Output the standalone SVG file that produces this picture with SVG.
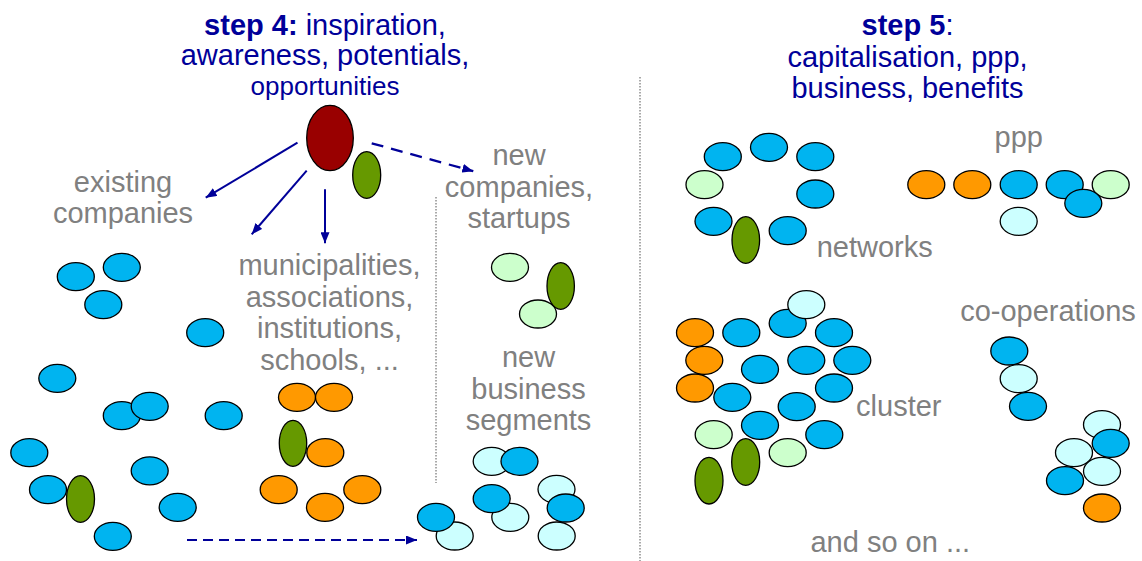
<svg xmlns="http://www.w3.org/2000/svg" width="1142" height="561" viewBox="0 0 1142 561">
<style>
ellipse{stroke:#000;stroke-width:1.3}
.b{fill:#00B4F0}.o{fill:#FF9900}.g{fill:#669900}.lg{fill:#CCFFCC}.lc{fill:#CCFFFF}.r{fill:#990000}
text{font-family:"Liberation Sans",Arial,sans-serif;text-anchor:middle}
.lbl{font-size:29px;fill:#808080}
.ttl{font-size:29px;fill:#000099}
.ttl.sm{font-size:26px}
.conn{stroke:#000099;stroke-width:2;fill:none}
.dash{stroke-dasharray:10,6}
.dash2{stroke-dasharray:12,8;stroke-width:2.3}
.dot{stroke:#555;stroke-width:1;stroke-dasharray:1.5,1.5;fill:none}
</style>
<defs>
<marker id="ah" markerUnits="userSpaceOnUse" markerWidth="11" markerHeight="9" refX="11" refY="4.5" orient="auto">
<path d="M0,0 L11,4.5 L0,9 z" fill="#000099"/>
</marker>
</defs>

<g id="titles">
<text class="ttl" x="325" y="35"><tspan font-weight="bold">step 4:</tspan> inspiration,</text>
<text class="ttl" x="325" y="65">awareness, potentials,</text>
<text class="ttl sm" x="325" y="95">opportunities</text>
<text class="ttl" x="907.5" y="35"><tspan font-weight="bold">step 5</tspan>:</text>
<text class="ttl" x="907.5" y="66.5">capitalisation, ppp,</text>
<text class="ttl" x="907.5" y="98">business, benefits</text>
</g>

<g id="dividers">
<line class="dot" x1="436" y1="197" x2="436" y2="483"/>
<line class="dot" x1="640" y1="77" x2="640" y2="561"/>
</g>

<g id="labels">
<text class="lbl" x="123" y="192">existing</text>
<text class="lbl" x="123" y="223">companies</text>
<text class="lbl" x="329.5" y="275">municipalities,</text>
<text class="lbl" x="329.5" y="306.5">associations,</text>
<text class="lbl" x="329.5" y="338">institutions,</text>
<text class="lbl" x="329.5" y="369.5">schools, ...</text>
<text class="lbl" x="519" y="165">new</text>
<text class="lbl" x="519" y="196.5">companies,</text>
<text class="lbl" x="519" y="228">startups</text>
<text class="lbl" x="528.5" y="367">new</text>
<text class="lbl" x="528.5" y="398.5">business</text>
<text class="lbl" x="528.5" y="430">segments</text>
<text class="lbl" x="874.7" y="256.7">networks</text>
<text class="lbl" x="1018.7" y="146.7">ppp</text>
<text class="lbl" x="898.8" y="416">cluster</text>
<text class="lbl" x="1048" y="320.7">co-operations</text>
<text class="lbl" x="890.3" y="551.7">and so on ...</text>
</g>

<g id="source">
<g id="idea"><ellipse class="r" cx="330" cy="138" rx="23.3" ry="32.7"/></g>
<g id="idea-green"><ellipse class="g" cx="366.7" cy="175" rx="14" ry="23.3"/></g>
</g>

<g id="connectors">
<line class="conn" x1="297.5" y1="142.7" x2="205.7" y2="197.7" marker-end="url(#ah)"/>
<line class="conn" x1="306.7" y1="170.7" x2="251.7" y2="234.3" marker-end="url(#ah)"/>
<line class="conn" x1="325" y1="189.3" x2="325" y2="243.3" marker-end="url(#ah)"/>
<line class="conn dash2" x1="371.7" y1="143.3" x2="473.3" y2="171.2" marker-end="url(#ah)"/>
<line class="conn dash" x1="187" y1="540" x2="417" y2="540" marker-end="url(#ah)"/>
</g>

<g id="existing-companies">
<g id="ec1"><ellipse class="b" cx="75.8" cy="276.7" rx="18.5" ry="14"/></g>
<g id="ec2"><ellipse class="b" cx="121.8" cy="267.3" rx="18.5" ry="14"/></g>
<g id="ec3"><ellipse class="b" cx="103.3" cy="304.7" rx="18.5" ry="14"/></g>
<g id="ec4"><ellipse class="b" cx="205.2" cy="332.7" rx="18.5" ry="14"/></g>
<g id="ec5"><ellipse class="b" cx="57.3" cy="378.3" rx="18.5" ry="14"/></g>
<g id="ec6"><ellipse class="b" cx="121.8" cy="415.7" rx="18.5" ry="14"/></g>
<g id="ec7"><ellipse class="b" cx="149.7" cy="406.3" rx="18.5" ry="14"/></g>
<g id="ec8"><ellipse class="b" cx="223.7" cy="415.7" rx="18.5" ry="14"/></g>
<g id="ec9"><ellipse class="b" cx="29.3" cy="452.7" rx="18.5" ry="14"/></g>
<g id="ec10"><ellipse class="b" cx="149.7" cy="470.8" rx="18.5" ry="14"/></g>
<g id="ec11"><ellipse class="b" cx="48" cy="489.7" rx="18.5" ry="14"/></g>
<g id="ec12"><ellipse class="g" cx="80.5" cy="499" rx="14" ry="23.3"/></g>
<g id="ec13"><ellipse class="b" cx="177.7" cy="507.3" rx="18.5" ry="14"/></g>
<g id="ec14"><ellipse class="b" cx="112.8" cy="536.3" rx="18.5" ry="14"/></g>
</g>

<g id="institutions">
<g id="in1"><ellipse class="o" cx="297" cy="397.3" rx="18.5" ry="14"/></g>
<g id="in2"><ellipse class="o" cx="334" cy="397.3" rx="18.5" ry="14"/></g>
<g id="in3"><ellipse class="g" cx="293" cy="443.3" rx="13.7" ry="23"/></g>
<g id="in4"><ellipse class="o" cx="325.3" cy="452.7" rx="18.5" ry="14"/></g>
<g id="in5"><ellipse class="o" cx="278.7" cy="489.7" rx="18.5" ry="14"/></g>
<g id="in6"><ellipse class="o" cx="325" cy="507.3" rx="18.5" ry="14"/></g>
<g id="in7"><ellipse class="o" cx="362.3" cy="489.7" rx="18.5" ry="14"/></g>
</g>

<g id="startups">
<g id="st1"><ellipse class="lg" cx="510" cy="267.3" rx="18.5" ry="14"/></g>
<g id="st2"><ellipse class="lg" cx="538" cy="314" rx="18.5" ry="14"/></g>
<g id="st3"><ellipse class="g" cx="560.7" cy="286" rx="13.7" ry="23.3"/></g>
</g>

<g id="new-segments">
<g id="ns1"><ellipse class="lc" cx="491.7" cy="461.3" rx="18.5" ry="14"/></g>
<g id="ns2"><ellipse class="b" cx="519.5" cy="461.3" rx="18.5" ry="14"/></g>
<g id="ns3"><ellipse class="lc" cx="556.5" cy="489.3" rx="18.5" ry="14"/></g>
<g id="ns4"><ellipse class="lc" cx="510.3" cy="517.3" rx="18.5" ry="14"/></g>
<g id="ns5"><ellipse class="b" cx="491.7" cy="498.7" rx="18.5" ry="14"/></g>
<g id="ns6"><ellipse class="lc" cx="556.7" cy="536" rx="18.5" ry="14"/></g>
<g id="ns7"><ellipse class="b" cx="565.7" cy="508" rx="18.5" ry="14"/></g>
<g id="ns8"><ellipse class="lc" cx="454.7" cy="536" rx="18.5" ry="14"/></g>
<g id="ns9"><ellipse class="b" cx="436" cy="517.3" rx="18.5" ry="14"/></g>
</g>

<g id="networks">
<g id="nw1"><ellipse class="b" cx="722.8" cy="156.7" rx="18.5" ry="14"/></g>
<g id="nw2"><ellipse class="b" cx="769" cy="147.3" rx="18.5" ry="14"/></g>
<g id="nw3"><ellipse class="b" cx="815.3" cy="156.7" rx="18.5" ry="14"/></g>
<g id="nw4"><ellipse class="lg" cx="704.5" cy="184.7" rx="18.5" ry="14"/></g>
<g id="nw5"><ellipse class="b" cx="815.3" cy="194" rx="18.5" ry="14"/></g>
<g id="nw6"><ellipse class="b" cx="713.5" cy="221.3" rx="18.5" ry="14"/></g>
<g id="nw7"><ellipse class="g" cx="745.8" cy="240" rx="13.8" ry="23.3"/></g>
<g id="nw8"><ellipse class="b" cx="787.7" cy="230.7" rx="18.5" ry="14"/></g>
</g>

<g id="ppp">
<g id="pp1"><ellipse class="o" cx="926.3" cy="184.7" rx="18.5" ry="14"/></g>
<g id="pp2"><ellipse class="o" cx="972.3" cy="184.7" rx="18.5" ry="14"/></g>
<g id="pp3"><ellipse class="b" cx="1018.7" cy="184.7" rx="18.5" ry="14"/></g>
<g id="pp4"><ellipse class="b" cx="1064.7" cy="184.7" rx="18.5" ry="14"/></g>
<g id="pp5"><ellipse class="lg" cx="1110.7" cy="184.7" rx="18.5" ry="14"/></g>
<g id="pp6"><ellipse class="b" cx="1083.3" cy="203.3" rx="18.5" ry="14"/></g>
<g id="pp7"><ellipse class="lc" cx="1018.7" cy="221.3" rx="18.5" ry="14"/></g>
</g>

<g id="cluster">
<g id="cl1"><ellipse class="b" cx="787.7" cy="323.3" rx="18.5" ry="14"/></g>
<g id="cl2"><ellipse class="lc" cx="806.3" cy="304.7" rx="18.5" ry="14"/></g>
<g id="cl3"><ellipse class="o" cx="695" cy="332.7" rx="18.5" ry="14"/></g>
<g id="cl4"><ellipse class="b" cx="741.3" cy="332.7" rx="18.5" ry="14"/></g>
<g id="cl5"><ellipse class="b" cx="834" cy="332.7" rx="18.5" ry="14"/></g>
<g id="cl6"><ellipse class="o" cx="704.3" cy="360.3" rx="18.5" ry="14"/></g>
<g id="cl7"><ellipse class="b" cx="760" cy="369.3" rx="18.5" ry="14"/></g>
<g id="cl8"><ellipse class="b" cx="806.3" cy="360.3" rx="18.5" ry="14"/></g>
<g id="cl9"><ellipse class="b" cx="852.3" cy="360.3" rx="18.5" ry="14"/></g>
<g id="cl10"><ellipse class="o" cx="695" cy="388" rx="18.5" ry="14"/></g>
<g id="cl11"><ellipse class="b" cx="732.3" cy="397.3" rx="18.5" ry="14"/></g>
<g id="cl12"><ellipse class="b" cx="834" cy="388" rx="18.5" ry="14"/></g>
<g id="cl13"><ellipse class="b" cx="796.7" cy="406.7" rx="18.5" ry="14"/></g>
<g id="cl14"><ellipse class="b" cx="760" cy="425.3" rx="18.5" ry="14"/></g>
<g id="cl15"><ellipse class="lg" cx="713.7" cy="434.7" rx="18.5" ry="14"/></g>
<g id="cl16"><ellipse class="b" cx="824.3" cy="434.7" rx="18.5" ry="14"/></g>
<g id="cl17"><ellipse class="lg" cx="787.7" cy="452.7" rx="18.5" ry="14"/></g>
<g id="cl18"><ellipse class="g" cx="745.7" cy="462" rx="14" ry="23.3"/></g>
<g id="cl19"><ellipse class="g" cx="709" cy="480.7" rx="14" ry="23.3"/></g>
</g>

<g id="co-operations">
<g id="co1"><ellipse class="b" cx="1009.3" cy="351" rx="18.5" ry="14"/></g>
<g id="co2"><ellipse class="lc" cx="1018.7" cy="378.7" rx="18.5" ry="14"/></g>
<g id="co3"><ellipse class="b" cx="1028" cy="406.3" rx="18.5" ry="14"/></g>
<g id="co4"><ellipse class="lc" cx="1102" cy="424.7" rx="18.5" ry="14"/></g>
<g id="co5"><ellipse class="lc" cx="1074" cy="452.7" rx="18.5" ry="14"/></g>
<g id="co6"><ellipse class="lc" cx="1102" cy="471.3" rx="18.5" ry="14"/></g>
<g id="co7"><ellipse class="b" cx="1110.7" cy="443.3" rx="18.5" ry="14"/></g>
<g id="co8"><ellipse class="b" cx="1065" cy="480.7" rx="18.5" ry="14"/></g>
<g id="co9"><ellipse class="o" cx="1102" cy="508" rx="18.5" ry="14"/></g>
</g>
</svg>
